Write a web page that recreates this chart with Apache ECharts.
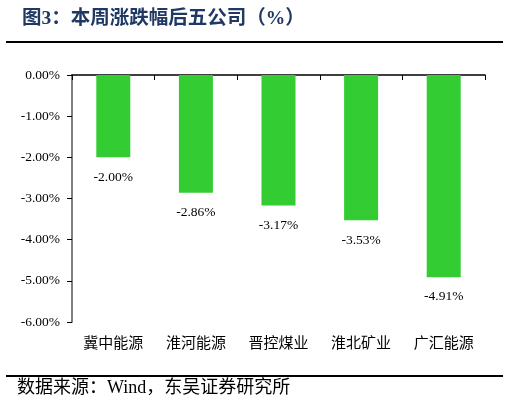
<!DOCTYPE html>
<html><head><meta charset="utf-8">
<script src="https://cdn.jsdelivr.net/npm/echarts@6/dist/echarts.min.js"></script>
<style>html,body{margin:0;padding:0;background:#fff}#c{width:510px;height:406px}</style>
</head><body><div id="c"></div>
<script>
const categories = ['冀中能源', '淮河能源', '晋控煤业', '淮北矿业', '广汇能源'];
const values = [-2.00, -2.86, -3.17, -3.53, -4.91];
const titleText = '图3：本周涨跌幅后五公司（%）';
const sourceText = '数据来源：Wind，东吴证券研究所';

const chart = echarts.init(document.getElementById('c'), null, {renderer: 'canvas'});
const serif = '"Liberation Serif", "Times New Roman", "Noto Sans CJK SC", serif';
chart.setOption({
  animation: false,
  backgroundColor: '#fff',
  title: {
    text: titleText,
    left: 17, top: 4,
    textStyle: {color: '#1F3864', fontSize: 19.5, fontWeight: 'bold', fontFamily: '"Liberation Serif", "Noto Sans CJK SC", serif'}
  },
  graphic: [
    {type: 'line', shape: {x1: 6, y1: 42, x2: 503, y2: 42}, style: {stroke: '#000', lineWidth: 2}},
    {type: 'line', shape: {x1: 6, y1: 376, x2: 503, y2: 376}, style: {stroke: '#000', lineWidth: 2}},
    {type: 'text', left: 17, top: 379, style: {text: sourceText, fill: '#000', font: '18px "Liberation Serif", "Noto Sans CJK SC", serif'}}
  ],
  grid: {left: 72, right: 25, top: 75, bottom: 84},
  xAxis: [
    {
      type: 'category', data: categories, position: 'bottom',
      axisLine: {show: false}, axisTick: {show: false},
      axisLabel: {color: '#000', fontSize: 15, margin: 13, fontFamily: '"Noto Sans CJK SC", serif'}
    },
    {
      type: 'category', data: categories, position: 'top',
      axisLine: {show: true, onZero: false, lineStyle: {color: '#000', width: 1.5}},
      axisTick: {show: true, inside: true, length: 5, lineStyle: {color: '#000'}},
      axisLabel: {show: false}
    }
  ],
  yAxis: {
    type: 'value', min: -6, max: 0, interval: 1,
    axisLine: {show: true, lineStyle: {color: '#808080', width: 2}},
    axisTick: {show: true, length: 5, lineStyle: {color: '#000'}},
    splitLine: {show: false},
    axisLabel: {color: '#000', fontSize: 13.5, margin: 12, fontFamily: serif,
      formatter: v => v.toFixed(2) + '%'}
  },
  series: [{
    type: 'bar', data: values, xAxisIndex: 0, barWidth: 34,
    itemStyle: {color: '#33CC33'},
    label: {show: true, position: 'bottom', distance: 13, color: '#000', fontSize: 13.5, fontFamily: serif,
      formatter: p => p.value.toFixed(2) + '%'}
  }]
});
</script></body></html>
